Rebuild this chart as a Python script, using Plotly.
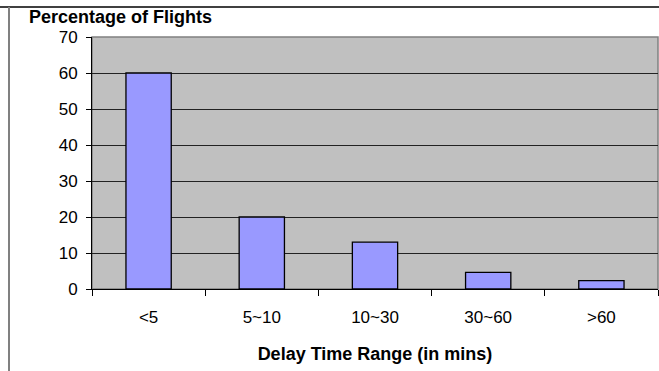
import plotly.graph_objects as go

categories = ["<5", "5~10", "10~30", "30~60", ">60"]
percentages = [60, 20, 13, 4.6, 2.3]
y_ticks = [0, 10, 20, 30, 40, 50, 60, 70]

fig = go.Figure()
fig.add_trace(go.Bar(
    x=categories, y=percentages,
    marker=dict(color="#9999FF", line=dict(color="#000000", width=1.3)),
    width=0.4,
))

fig.update_layout(
    width=659, height=371,
    margin=dict(l=92, r=1, t=37, b=82),
    paper_bgcolor="white",
    plot_bgcolor="#C0C0C0",
    font=dict(family="Liberation Sans, Arial, sans-serif", size=17, color="black"),
    showlegend=False,
    xaxis=dict(
        range=[-0.5, 4.5],
        showline=True, linecolor="black", linewidth=1,
        ticks="outside", ticklen=6, tickcolor="black",
        tickson="boundaries",
        showgrid=False,
        tickfont=dict(size=17),
        ticklabelstandoff=13,
        title=dict(text="<b>Delay Time Range (in mins)</b>", font=dict(size=18), standoff=20),
    ),
    yaxis=dict(
        range=[0, 70], tickvals=y_ticks,
        showline=True, linecolor="black", linewidth=1,
        ticks="outside", ticklen=5, tickcolor="black",
        showgrid=True, gridcolor="#222222", gridwidth=1,
        tickfont=dict(size=17),
        ticklabelstandoff=5,
        zeroline=False,
    ),
    shapes=[
        dict(type="rect", xref="paper", yref="paper", x0=0, x1=1, y0=0, y1=1,
             line=dict(color="#808080", width=1.5), layer="below"),
        dict(type="line", xref="paper", yref="paper", x0=-92/566, x1=1 + 1/566,
             y0=1 + 30/252, y1=1 + 30/252, line=dict(color="black", width=1.5)),
        dict(type="line", xref="paper", yref="paper", x0=-83/566, x1=-83/566,
             y0=1 + 30/252, y1=-82/252, line=dict(color="#808080", width=2)),
    ],
    annotations=[
        dict(text="<b>Percentage of Flights</b>", xref="paper", yref="paper",
             x=-65/566, y=1 + 8/252, xanchor="left", yanchor="bottom",
             showarrow=False, font=dict(size=18)),
    ],
)

fig.write_html("out.html", config={"displayModeBar": False},
               post_script="document.body.style.margin='0';document.body.style.overflow='hidden';")
